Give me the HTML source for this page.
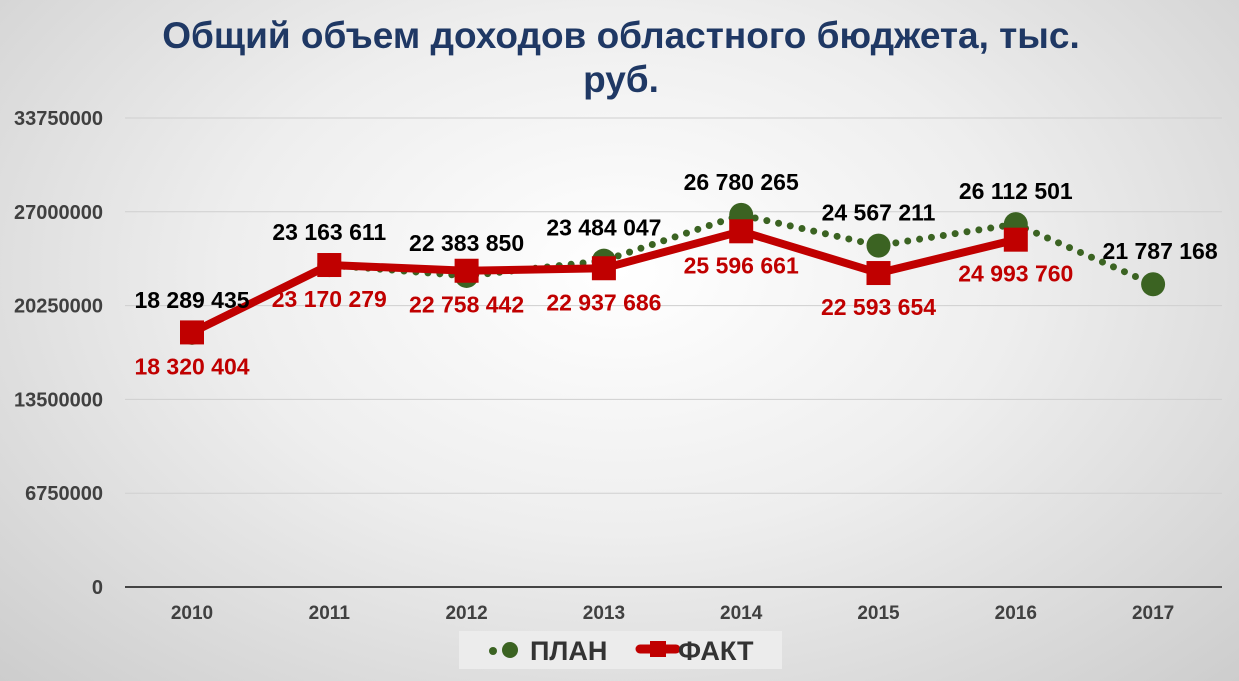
<!DOCTYPE html>
<html><head><meta charset="utf-8"><style>
body{margin:0;width:1239px;height:681px;overflow:hidden;font-family:"Liberation Sans",sans-serif;}
#bg{position:absolute;left:0;top:0;width:1239px;height:681px;background:radial-gradient(ellipse at 50% 40%,#ffffff 0%,#eeeeee 45%,#cdcdcd 100%);}
svg{position:absolute;left:0;top:0;}
text{font-family:"Liberation Sans",sans-serif;font-weight:bold;}
</style></head><body>
<div id="bg"></div>
<svg id="c" width="1239" height="681">
<text x="621" y="48" text-anchor="middle" font-size="37" fill="#1f3864">Общий объем доходов областного бюджета, тыс.</text>
<text x="621" y="92" text-anchor="middle" font-size="37" fill="#1f3864">руб.</text>
<rect x="459" y="631" width="323" height="38" fill="#ececec"></rect>
<circle cx="493" cy="651" r="4" fill="#3b6322"></circle>
<circle cx="510" cy="650" r="8" fill="#3b6322"></circle>
<text x="530" y="660" font-size="27" fill="#333">ПЛАН</text>
<line x1="640" y1="649" x2="676" y2="649" stroke="#c00000" stroke-width="9" stroke-linecap="round"></line>
<rect x="650" y="641" width="16" height="16" fill="#c00000"></rect>
<text x="678" y="660" font-size="27" fill="#333">ФАКТ</text>
</svg>
<script>
const years=["2010","2011","2012","2013","2014","2015","2016","2017"];
const plan=[18289435,23163611,22383850,23484047,26780265,24567211,26112501,21787168];
const fact=[18320404,23170279,22758442,22937686,25596661,22593654,24993760];
const yTicks=[0,6750000,13500000,20250000,27000000,33750000];
const planLabels=["18 289 435","23 163 611","22 383 850","23 484 047","26 780 265","24 567 211","26 112 501","21 787 168"];
const factLabels=["18 320 404","23 170 279","22 758 442","22 937 686","25 596 661","22 593 654","24 993 760"];
const NS="http://www.w3.org/2000/svg";
const svg=document.getElementById('c');
const X=i=>192+i*137.3;
const Y=v=>587-v/33750000*469;
function mk(t,a,parent){const e=document.createElementNS(NS,t);for(const k in a)e.setAttribute(k,a[k]);(parent||svg).appendChild(e);return e;}
const g=mk('g',{});
yTicks.forEach((t,i)=>{
 const l=mk('line',{x1:125,x2:1222,y1:Y(t),y2:Y(t),stroke:t===0?'#444':'#cfcfcf','stroke-width':t===0?2:1},g);
 
 
 const tx=mk('text',{x:103,y:Y(t)+7,'text-anchor':'end','font-size':20,fill:'#404040'},g);tx.textContent=t;
 
 
});
years.forEach((y,i)=>{
 const tx=mk('text',{x:X(i),y:619,'text-anchor':'middle','font-size':19,fill:'#404040'},g);tx.textContent=y;
 
 
});
const pp=mk('polyline',{points:plan.map((v,i)=>X(i)+','+Y(v)).join(' '),fill:'none',stroke:'#3b6322','stroke-width':7,'stroke-dasharray':'0 12','stroke-linecap':'round'},g);


plan.forEach((v,i)=>{
 const c=mk('circle',{cx:X(i),cy:Y(v),r:12,fill:'#3b6322'},g);
 
 
});
const fp=mk('polyline',{points:fact.map((v,i)=>X(i)+','+Y(v)).join(' '),fill:'none',stroke:'#c00000','stroke-width':8,'stroke-linejoin':'round'},g);


fact.forEach((v,i)=>{
 const r=mk('rect',{x:X(i)-12,y:Y(v)-12,width:24,height:24,fill:'#c00000'},g);
 
 
});
plan.forEach((v,i)=>{
 const tx=mk('text',{x:X(i)+(i===7?7:0),y:Y(v)-25,'text-anchor':'middle','font-size':23,fill:'#000'},g);tx.textContent=planLabels[i];
 
 
});
fact.forEach((v,i)=>{
 const tx=mk('text',{x:X(i),y:Y(v)+42,'text-anchor':'middle','font-size':23,fill:'#c00000'},g);tx.textContent=factLabels[i];
 
 
});
</script>
</body></html>
